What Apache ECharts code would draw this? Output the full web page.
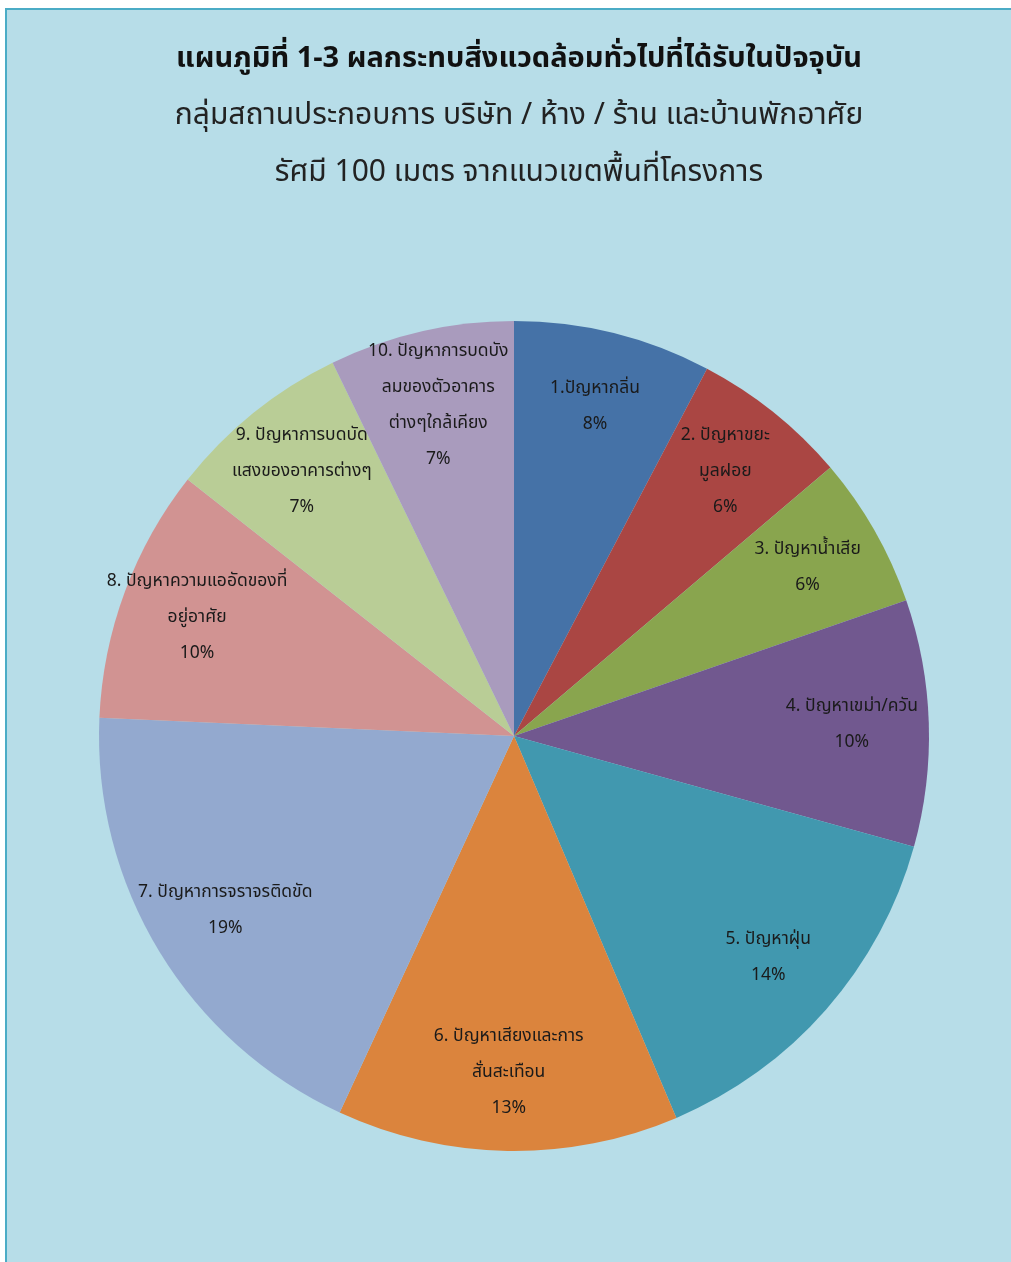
<!DOCTYPE html>
<html>
<head>
<meta charset="utf-8">
<script src="https://cdn.jsdelivr.net/npm/echarts@6/dist/echarts.min.js"></script>
<style>
    html, body { margin: 0; padding: 0; background: #ffffff; }
    #frame {
        position: absolute;
        left: 5px; top: 8px;
        width: 1010px; height: 1260px;
        background: #b7dde8;
        border-left: 2px solid #4bacc6;
        border-top: 2px solid #4bacc6;
    }
    #chart { position: absolute; left: 0; top: 0; width: 1011px; height: 1262px; }
</style>
</head>
<body>
<div id="frame"></div>
<div id="chart"></div>
<script>
var FONT = '"Noto Sans Thai", "Noto Sans", Tahoma, sans-serif';

var titleText = 'แผนภูมิที่ 1-3 ผลกระทบสิ่งแวดล้อมทั่วไปที่ได้รับในปัจจุบัน';
var subText = 'กลุ่มสถานประกอบการ บริษัท / ห้าง / ร้าน และบ้านพักอาศัย\nรัศมี 100 เมตร จากแนวเขตพื้นที่โครงการ';

// หัวข้อปัญหา (ขึ้นบรรทัดตามภาพ)
var categories = [
    '1.ปัญหากลิ่น',
    '2. ปัญหาขยะ\nมูลฝอย',
    '3. ปัญหาน้ำเสีย',
    '4. ปัญหาเขม่า/ควัน',
    '5. ปัญหาฝุ่น',
    '6. ปัญหาเสียงและการ\nสั่นสะเทือน',
    '7. ปัญหาการจราจรติดขัด',
    '8. ปัญหาความแออัดของที่\nอยู่อาศัย',
    '9. ปัญหาการบดบัด\nแสงของอาคารต่างๆ',
    '10. ปัญหาการบดบัง\nลมของตัวอาคาร\nต่างๆใกล้เคียง'
];
// ร้อยละ (ประมาณจากภาพ)
var values = [7.7, 6.1, 5.9, 9.6, 14.3, 13.3, 18.8, 9.9, 7.2, 7.2];
var colors = ['#4572a7', '#aa4643', '#89a54e', '#71588f', '#4198af',
              '#db843d', '#93a9cf', '#d19392', '#b9cd96', '#a99bbd'];

var pieData = categories.map(function(c, i) {
    return { name: c, value: values[i], itemStyle: { color: colors[i] } };
});
var labelData = categories.map(function(c, i) {
    return { name: c, value: values[i] };
});

var myChart = echarts.init(document.getElementById('chart'));
var option = {
    backgroundColor: 'transparent',
    animation: false,
    title: [{
        text: titleText,
        left: 514, top: 42, textAlign: 'center',
        textStyle: { fontFamily: FONT, fontSize: 29, fontWeight: 'bold', color: '#111111' }
    }, {
        text: subText,
        left: 514, top: 84, textAlign: 'center',
        textStyle: { fontFamily: FONT, fontSize: 30, fontWeight: 'normal', color: '#222222', lineHeight: 57 }
    }],
    series: [{
        type: 'pie',
        center: [514, 736],
        radius: [0, 415],
        startAngle: 90,
        clockwise: true,
        silent: true,
        label: { show: false },
        labelLine: { show: false },
        itemStyle: { borderWidth: 0 },
        data: pieData
    }, {
        // ชั้นโปร่งใสสำหรับวางป้ายกำกับใกล้ขอบ
        type: 'pie',
        center: [514, 736],
        radius: [160, 510],
        startAngle: 90,
        clockwise: true,
        silent: true,
        avoidLabelOverlap: false,
        labelLayout: { hideOverlap: false },
        itemStyle: { color: 'rgba(0,0,0,0)' },
        labelLine: { show: false },
        label: {
            show: true,
            position: 'inside',
            fontFamily: FONT,
            fontSize: 17.5,
            lineHeight: 36,
            color: '#1a1a1a',
            formatter: function(p) {
                return p.name + '\n' + Math.round(p.percent) + '%';
            }
        },
        data: labelData
    }]
};
myChart.setOption(option);
</script>
</body>
</html>
